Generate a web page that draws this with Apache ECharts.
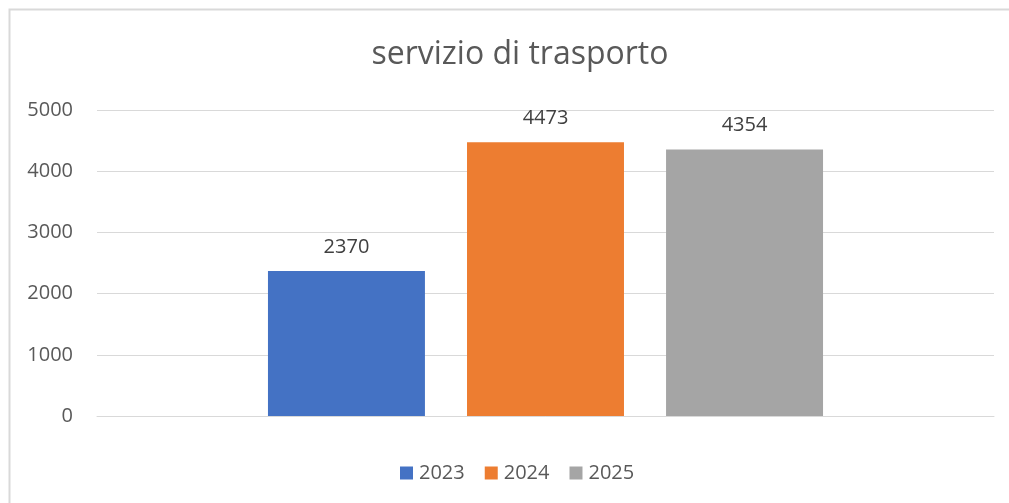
<!DOCTYPE html>
<html>
<head>
<meta charset="utf-8">
<script src="https://cdn.jsdelivr.net/npm/echarts@6/dist/echarts.min.js"></script>
<style>
  html, body { margin: 0; padding: 0; background: #fff; }
  #chart { width: 1009px; height: 503px; }
</style>
</head>
<body>
<div id="chart"></div>
<script>
// dati
const categories = ['servizio di trasporto'];
const seriesNames = ['2023', '2024', '2025'];
const values2023 = [2370];
const values2024 = [4473];
const values2025 = [4354];
const colors = ['#4472c4', '#ed7d31', '#a5a5a5'];

const txt = '#595959';
const font = 'Open Sans';

var myChart = echarts.init(document.getElementById('chart'));

const mkSeries = (name, data, color) => ({
    name: name,
    type: 'bar',
    data: data,
    barWidth: '17.5%',
    barGap: '26.8%',
    itemStyle: { color: color },
    label: {
        show: true,
        position: 'top',
        distance: 14,
        color: '#404040',
        fontSize: 20,
        fontFamily: font,
    },
});

var option = {
    animation: false,
    title: {
        text: categories[0],
        left: 515,
        textAlign: 'center',
        top: 34,
        textStyle: {
            color: txt,
            fontSize: 32,
            fontWeight: 'normal',
            fontFamily: font,
        },
    },
    graphic: [
        {
            type: 'rect',
            shape: { x: 9.5, y: 9.5, width: 1200, height: 600 },
            style: { fill: 'none', stroke: '#d9d9d9', lineWidth: 2 },
            silent: true,
        },
    ],
    legend: {
        data: seriesNames,
        left: 395,
        top: 458,
        itemWidth: 13,
        itemHeight: 13,
        itemGap: 20,
        icon: 'rect',
        textStyle: { color: txt, fontSize: 20, fontFamily: font, padding: [0, 0, 0, 1] },
    },
    grid: {
        left: 97,
        right: 15,
        top: 110,
        bottom: 87,
        containLabel: false,
    },
    xAxis: {
        type: 'category',
        data: categories,
        axisLine: { show: true, lineStyle: { color: '#d9d9d9', width: 1 } },
        axisTick: { show: false },
        axisLabel: { show: false },
    },
    yAxis: {
        type: 'value',
        min: 0,
        max: 5000,
        interval: 1000,
        axisLine: { show: false },
        axisTick: { show: false },
        axisLabel: {
            color: txt,
            fontSize: 20,
            fontFamily: font,
            margin: 24,
            formatter: (v) => String(v),
        },
        splitLine: { lineStyle: { color: '#d9d9d9', width: 1 } },
    },
    series: [
        mkSeries(seriesNames[0], values2023, colors[0]),
        mkSeries(seriesNames[1], values2024, colors[1]),
        mkSeries(seriesNames[2], values2025, colors[2]),
    ],
};

myChart.setOption(option);
</script>
</body>
</html>
